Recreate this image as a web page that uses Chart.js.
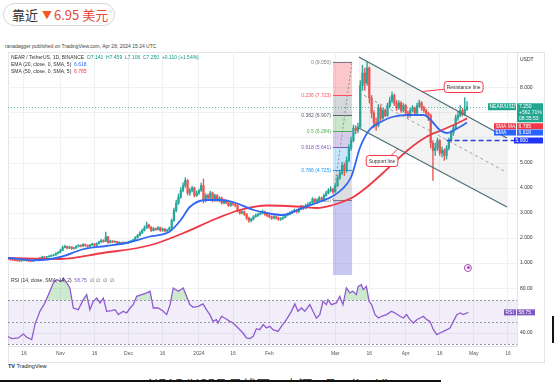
<!DOCTYPE html>
<html>
<head>
<meta charset="utf-8">
<script src="https://cdn.jsdelivr.net/npm/chart.js@4.4.1/dist/chart.umd.min.js"></script>
<style>
html, body { margin: 0; padding: 0; background: #fff; }
body { width: 554px; height: 382px; overflow: hidden; position: relative; font-family: "Liberation Sans", Arial, sans-serif; }
#badge { position: absolute; left: 3px; top: 3px; width: 110px; height: 21px; border: 1px solid #d6d6d6; border-radius: 12px; font: 13px "Noto Sans CJK SC", sans-serif; line-height: 21px; white-space: nowrap; }
#badge .k { position: absolute; left: 8px; color: #333; }
#badge .t { position: absolute; left: 38px; color: #f05a28; font-size: 10px; }
#badge .v { position: absolute; left: 50px; color: #e8473a; }
#pub { position: absolute; left: 5px; top: 43px; font-size: 10px; color: #444; transform: scale(0.5); transform-origin: 0 0; white-space: nowrap; }
#frame { position: absolute; left: 8px; top: 52px; width: 535px; height: 309px; border: 1px solid #e3e5ea; }
#main { position: absolute; left: 8px; top: 52px; }
#rsi { position: absolute; left: 8px; top: 275px; }
#logo { position: absolute; left: 8px; top: 363px; font-size: 10px; color: #222; transform: scale(0.55); transform-origin: 0 0; white-space: nowrap; }
#caption { position: absolute; left: 148px; top: 373.5px; font: 14px "Noto Sans CJK SC", sans-serif; color: #444; white-space: nowrap; }
#bar { position: absolute; left: 0; top: 380px; width: 441px; height: 2px; background: #111; }
#vbar { position: absolute; left: 552px; top: 316px; width: 2px; height: 27px; background: #111; }
</style>
</head>
<body>
<div id="badge"><span class="k">靠近</span><span class="t">▼</span><span class="v">6.95 美元</span></div>
<div id="pub">ranadagger published on TradingView.com, Apr 28, 2024 15:24 UTC</div>
<div id="frame"></div>
<canvas id="main" width="536" height="223"></canvas>
<canvas id="rsi" width="536" height="87"></canvas>
<div id="logo"><b>TV</b> TradingView</div>
<div id="caption">NEAR/USDT 日线图。来源：TradingView</div>
<div id="bar"></div>
<div id="vbar"></div>
<script>
// days are counted from Oct 16 2023 (day 0)
const tickDays = [0, 16, 31, 46, 61, 77, 92, 108, 137, 152, 168, 183, 198, 213];
const tickLabels = ['16', 'Nov', '16', 'Dec', '16', '2024', '16', 'Feb', 'Mar', '16', 'Apr', '16', 'May', '16'];
const priceTicks = [1, 2, 3, 4, 5, 6, 7, 8];
const rsiTicks = [40, 80];

const firstDay = -7; // Oct 9
const firstOpen = 1.18;
const closes = [
  1.16, 1.13, 1.12, 1.10, 1.09, 1.08, 1.10, 1.11, 1.09, 1.08,
  1.07, 1.10, 1.12, 1.15, 1.20, 1.24, 1.22, 1.25, 1.27, 1.30,
  1.32, 1.38, 1.42, 1.50, 1.62, 1.66, 1.60, 1.64, 1.58, 1.60,
  1.66, 1.70, 1.68, 1.74, 1.70, 1.66, 1.72, 1.76, 1.70, 1.78,
  1.84, 1.90, 1.86, 2.05, 1.82, 1.88, 1.84, 1.86, 1.80, 1.82,
  1.78, 1.82, 1.80, 1.84, 1.88, 1.92, 2.02, 2.10, 2.20, 2.30,
  2.40, 2.52, 2.44, 2.30, 2.38, 2.34, 2.42, 2.30, 2.36, 2.28,
  2.32, 2.40, 2.70, 3.10, 3.40, 3.64, 3.90, 4.10, 4.30, 3.80,
  3.90, 4.00, 3.70, 3.80, 3.90, 4.10, 3.50, 3.70, 3.60, 3.80,
  3.50, 3.70, 3.50, 3.60, 3.40, 3.50, 3.40, 3.30, 3.40, 3.35,
  3.30, 3.10, 3.00, 3.05, 2.95, 2.80, 2.70, 2.75, 2.85, 2.90,
  2.95, 3.00, 3.05, 2.95, 2.90, 2.85, 2.80, 2.85, 2.80, 2.75,
  2.78, 2.82, 2.90, 2.95, 3.00, 3.05, 3.10, 3.05, 3.15, 3.25,
  3.20, 3.30, 3.35, 3.40, 3.55, 3.45, 3.50, 3.60, 3.55, 3.70,
  3.80, 3.90, 3.95, 3.85, 4.10, 4.40, 4.60, 4.90, 4.70, 5.10,
  5.60, 5.90, 6.40, 6.30, 6.45, 8.10, 8.60, 8.20, 8.80, 7.60,
  7.00, 6.60, 6.50, 7.20, 6.80, 7.10, 6.90, 7.30, 7.50, 7.70,
  7.40, 7.20, 7.40, 7.10, 7.30, 7.00, 6.90, 7.10, 7.20, 7.00,
  7.30, 7.40, 7.20, 7.10, 7.00, 6.90, 5.80, 5.50, 5.60, 5.90,
  5.40, 5.50, 5.30, 5.60, 5.90, 6.20, 6.40, 6.80, 6.90, 7.10,
  6.95, 7.14, 7.25
];
const highs = [
  1.20, 1.17, 1.15, 1.13, 1.12, 1.11, 1.12, 1.13, 1.12, 1.11,
  1.10, 1.12, 1.14, 1.17, 1.23, 1.28, 1.26, 1.27, 1.30, 1.33,
  1.35, 1.41, 1.46, 1.55, 1.68, 1.72, 1.68, 1.67, 1.66, 1.63,
  1.70, 1.74, 1.73, 1.78, 1.76, 1.72, 1.75, 1.80, 1.78, 1.81,
  1.88, 1.95, 1.93, 2.24, 2.06, 1.92, 1.90, 1.89, 1.87, 1.85,
  1.84, 1.85, 1.84, 1.87, 1.91, 1.96, 2.06, 2.15, 2.26, 2.36,
  2.48, 2.64, 2.56, 2.46, 2.42, 2.40, 2.46, 2.44, 2.40, 2.38,
  2.36, 2.44, 2.76, 3.20, 3.52, 3.76, 4.02, 4.22, 4.42, 4.34,
  4.00, 4.08, 4.04, 3.88, 3.96, 4.20, 4.36, 3.78, 3.76, 3.88,
  3.84, 3.76, 3.74, 3.66, 3.64, 3.56, 3.54, 3.44, 3.46, 3.44,
  3.40, 3.34, 3.14, 3.10, 3.08, 2.98, 2.84, 2.80, 2.90, 2.96,
  3.00, 3.06, 3.12, 3.08, 2.98, 2.94, 2.88, 2.90, 2.88, 2.84,
  2.82, 2.86, 2.94, 3.00, 3.05, 3.10, 3.16, 3.14, 3.20, 3.32,
  3.30, 3.36, 3.42, 3.46, 3.62, 3.58, 3.56, 3.66, 3.64, 3.76,
  3.88, 3.98, 4.06, 4.00, 4.16, 4.50, 4.72, 5.04, 5.00, 5.24,
  5.74, 6.04, 6.52, 6.50, 6.60, 8.30, 8.90, 8.80, 9.05, 8.84,
  7.70, 7.10, 6.80, 7.34, 7.30, 7.20, 7.16, 7.40, 7.64, 7.84,
  7.76, 7.50, 7.50, 7.46, 7.38, 7.34, 7.08, 7.20, 7.30, 7.24,
  7.40, 7.52, 7.46, 7.28, 7.16, 7.04, 6.96, 5.90, 5.80, 6.00,
  5.94, 5.64, 5.56, 5.70, 6.00, 6.30, 6.50, 6.92, 7.06, 7.30,
  7.20, 7.62, 7.459
];
const lows = [
  1.14, 1.11, 1.10, 1.08, 1.07, 1.06, 1.07, 1.09, 1.07, 1.06,
  1.05, 1.06, 1.09, 1.11, 1.14, 1.19, 1.20, 1.21, 1.23, 1.25,
  1.28, 1.31, 1.36, 1.41, 1.49, 1.60, 1.56, 1.57, 1.54, 1.55,
  1.58, 1.64, 1.64, 1.66, 1.67, 1.62, 1.64, 1.70, 1.67, 1.69,
  1.76, 1.82, 1.83, 1.85, 1.78, 1.80, 1.81, 1.82, 1.77, 1.78,
  1.75, 1.76, 1.77, 1.78, 1.82, 1.86, 1.90, 2.00, 2.08, 2.18,
  2.28, 2.38, 2.38, 2.26, 2.28, 2.30, 2.32, 2.26, 2.27, 2.24,
  2.25, 2.30, 2.38, 2.66, 3.04, 3.34, 3.58, 3.84, 4.02, 3.72,
  3.70, 3.84, 3.64, 3.66, 3.74, 3.86, 3.40, 3.44, 3.52, 3.56,
  3.44, 3.46, 3.46, 3.44, 3.36, 3.36, 3.36, 3.26, 3.26, 3.30,
  3.24, 3.04, 2.94, 2.96, 2.90, 2.74, 2.62, 2.64, 2.72, 2.82,
  2.86, 2.92, 2.96, 2.90, 2.84, 2.80, 2.74, 2.76, 2.75, 2.70,
  2.70, 2.74, 2.80, 2.88, 2.92, 2.96, 3.02, 3.00, 3.02, 3.12,
  3.14, 3.16, 3.26, 3.30, 3.38, 3.40, 3.40, 3.46, 3.50, 3.52,
  3.66, 3.76, 3.84, 3.78, 3.82, 4.06, 4.34, 4.54, 4.50, 4.62,
  5.04, 5.50, 5.84, 6.16, 6.20, 6.40, 7.90, 7.90, 8.10, 7.40,
  6.80, 6.40, 6.30, 6.44, 6.70, 6.74, 6.84, 6.86, 7.20, 7.40,
  7.30, 7.10, 7.14, 7.02, 7.04, 6.90, 6.80, 6.84, 7.04, 6.92,
  6.96, 7.22, 7.10, 7.02, 6.90, 6.70, 5.60, 4.30, 5.30, 5.50,
  5.30, 5.24, 5.10, 5.16, 5.52, 5.84, 6.10, 6.36, 6.70, 6.84,
  6.88, 6.90, 7.106
];

const emaDays = [-7, 5, 16, 26, 36, 45, 55, 64, 69, 73, 80, 86, 92, 101, 108, 114, 121, 130, 136, 140, 144, 148, 152, 157, 162, 169, 176, 179, 183, 186, 191, 195];
const emaValues = [1.20, 1.11, 1.24, 1.55, 1.68, 1.80, 2.05, 2.25, 2.72, 3.24, 3.52, 3.52, 3.44, 3.12, 2.98, 2.92, 3.15, 3.44, 3.68, 3.95, 4.44, 5.64, 6.32, 6.64, 6.84, 6.92, 6.92, 6.72, 6.32, 6.20, 6.40, 6.618];
const smaDays = [-7, 16, 34, 56, 70, 85, 95, 107, 122, 129, 136, 140, 145, 151, 158, 169, 177, 184, 191, 195];
const smaValues = [1.20, 1.16, 1.39, 1.72, 2.19, 2.79, 3.12, 3.30, 3.25, 3.20, 3.32, 3.44, 3.64, 4.04, 4.60, 5.52, 6.04, 6.32, 6.60, 6.785];

const rsiDays = [
  -7.3, -5.4, -2.5, -0.3, 1.2, 3.4, 4.8, 7.0, 9.2, 11.4, 12.9, 14.4, 16.6, 17.3, 18.8, 20.2, 21.7, 23.9, 26.1, 27.6,
  29.0, 30.5, 32.0, 33.5, 34.9, 36.4, 38.6, 40.1, 41.5, 43.7, 45.2, 46.7, 48.1, 49.6, 51.8, 54.0, 55.5, 56.9, 59.1, 61.3,
  62.8, 64.3, 65.7, 67.9, 70.1, 73.0, 74.5, 76.7, 78.8, 80.3, 81.8, 83.2, 84.7, 85.4, 86.9, 88.3, 90.6, 92.0, 93.5, 95.0,
  96.4, 97.9, 99.4, 100.9, 102.3, 103.8, 105.3, 106.7, 108.2, 109.6, 111.8, 113.3, 115.5, 117.7, 119.2, 120.6, 122.1, 123.6, 125.8, 127.2,
  128.7, 130.2, 131.6, 133.1, 133.8, 135.3, 137.5, 139.0, 140.4, 141.9, 143.4, 144.8, 146.3, 147.1, 148.5, 149.3, 150.7, 151.9, 153.0, 154.5,
  156.0, 157.4, 159.6, 161.8, 163.3, 165.5, 167.0, 168.4, 169.9, 171.4, 172.9, 174.3, 175.8, 177.3, 178.7, 180.2, 181.7, 183.1, 184.6, 186.1,
  187.5, 189.0, 190.5, 192.0, 193.4, 194.9, 195.6
];
const rsiValues = [
  37.0, 34.9, 35.5, 39.1, 36.1, 34.0, 47.6, 59.7, 67.3, 77.9, 85.5, 88.5, 87.0, 90.0, 85.5, 80.9, 62.7, 61.2, 70.3, 74.8,
  61.2, 68.8, 71.8, 67.3, 71.8, 59.7, 60.3, 61.2, 56.7, 59.7, 58.2, 62.7, 65.8, 73.3, 74.8, 76.4, 77.9, 62.7, 62.7, 59.7,
  56.7, 65.8, 80.9, 77.9, 80.9, 65.8, 63.3, 64.2, 66.4, 61.2, 56.7, 50.6, 52.1, 49.1, 55.2, 53.6, 50.6, 49.1, 46.1, 43.0,
  40.0, 35.5, 34.9, 37.0, 43.9, 43.0, 47.6, 44.6, 46.1, 43.0, 41.5, 46.1, 52.1, 59.7, 66.4, 59.7, 62.7, 59.7, 65.8, 59.7,
  53.6, 56.7, 68.8, 65.8, 70.3, 65.8, 67.3, 73.3, 65.8, 80.9, 76.4, 77.9, 74.9, 82.4, 83.9, 79.4, 82.4, 68.8, 65.8, 56.7,
  53.6, 55.2, 56.7, 59.7, 58.2, 55.2, 53.6, 56.7, 52.1, 49.1, 52.1, 53.6, 55.2, 52.1, 50.6, 43.0, 38.5, 40.0, 41.5, 43.0,
  44.6, 50.6, 56.7, 58.2, 56.7, 58.2, 58.75
];

const fibLevels = [0, 0.236, 0.382, 0.5, 0.618, 0.786, 1];
const fibPrices = [9.050, 7.723, 6.907, 6.284, 5.641, 4.725, 3.520];
const fibColors = ['#787b86', '#f7525f', '#5d606b', '#4caf50', '#7e57c2', '#2196f3', '#787b86'];
const fibFills = ['', 'rgba(242,54,69,0.28)', 'rgba(120,123,134,0.3)', 'rgba(76,175,80,0.3)', 'rgba(126,87,194,0.3)', 'rgba(33,150,243,0.25)', 'rgba(120,123,134,0.25)'];
const fibDays = [136, 144.4];

const channelDays = [147.4, 212.6];
const channelUpper = [9.24, 6.0];
const channelLower = [6.4, 3.24];
const channelMid = [7.82, 4.62];
const supportDays = [186, 217];
const supportPrice = 5.9;

const lastClose = 7.25;
const emaLast = 6.618;
const smaLast = 6.785;
const rsiLast = 58.75;

const xMin = -7.04, xMax = 217;
const upColor = '#26a69a', downColor = '#ef5350';
const gridColor = '#eff1f5';
const tinyFont = '5px "Liberation Sans", Arial, sans-serif';

const days = closes.map((c, i) => firstDay + i);
const opens = closes.map((c, i) => i === 0 ? firstOpen : closes[i - 1]);
const candleColors = closes.map((c, i) => c >= opens[i] ? upColor : downColor);

function xAxis(showLabels) {
  return {
    type: 'linear', min: xMin, max: xMax, offset: false,
    afterBuildTicks: s => { s.ticks = tickDays.map(v => ({ value: v })); },
    ticks: {
      display: showLabels, autoSkip: false, maxRotation: 0, padding: 5,
      font: { size: 5, family: 'Liberation Sans' }, color: '#555',
      callback: (v, i) => tickLabels[i]
    },
    grid: { color: gridColor, drawTicks: false, offset: false },
    border: { display: showLabels, color: '#e0e3eb' },
    afterFit: s => { s.height = showLabels ? 16 : 0; s.paddingLeft = 0; s.paddingRight = 0; }
  };
}

function tag(ctx, x, y, w, h, bg, text, color, align) {
  ctx.fillStyle = bg;
  ctx.fillRect(x, y, w, h);
  ctx.fillStyle = color || '#fff';
  ctx.textAlign = align || 'left';
  ctx.textBaseline = 'middle';
  ctx.fillText(text, align === 'center' ? x + w / 2 : x + 1.5, y + h / 2 + 0.3);
}

function callout(ctx, cx, cy, text, tx, ty, fx, fy) {
  ctx.font = tinyFont;
  const w = ctx.measureText(text).width + 5, h = 11;
  ctx.strokeStyle = '#f23645';
  ctx.lineWidth = 1;
  ctx.beginPath();
  ctx.moveTo(fx, fy);
  ctx.lineTo(tx, ty);
  ctx.stroke();
  ctx.fillStyle = '#fff';
  ctx.beginPath();
  ctx.roundRect(cx - w / 2, cy - h / 2, w, h, 3);
  ctx.fill();
  ctx.stroke();
  ctx.fillStyle = '#333';
  ctx.textAlign = 'center';
  ctx.textBaseline = 'middle';
  ctx.fillText(text, cx, cy + 0.3);
}

const mainPlugin = {
  id: 'tvMain',
  beforeDatasetsDraw(chart) {
    const { ctx, chartArea: a, scales: { x, y } } = chart;
    ctx.save();
    ctx.beginPath();
    ctx.rect(a.left, a.top, a.right - a.left, a.bottom - a.top);
    ctx.clip();
    const x0 = x.getPixelForValue(fibDays[0]), x1 = x.getPixelForValue(fibDays[1]);
    const yLow = y.getPixelForValue(fibPrices[fibPrices.length - 1]);
    ctx.fillStyle = 'rgba(118,120,222,0.4)';
    ctx.fillRect(x0, yLow, x1 - x0, a.bottom - yLow);
    for (let i = 1; i < fibPrices.length; i++) {
      const ya = y.getPixelForValue(fibPrices[i - 1]), yb = y.getPixelForValue(fibPrices[i]);
      ctx.fillStyle = fibFills[i];
      ctx.fillRect(x0, ya, x1 - x0, yb - ya);
    }
    ctx.font = tinyFont;
    ctx.textAlign = 'right';
    ctx.textBaseline = 'middle';
    fibPrices.forEach((p, i) => {
      const yy = Math.round(y.getPixelForValue(p)) + 0.5;
      ctx.strokeStyle = fibColors[i];
      ctx.lineWidth = 1;
      ctx.beginPath();
      ctx.moveTo(x0, yy);
      ctx.lineTo(x1, yy);
      ctx.stroke();
      ctx.fillStyle = fibColors[i];
      ctx.fillText(fibLevels[i] + ' (' + p.toFixed(3) + ')', x0 - 2, yy);
    });
    ctx.strokeStyle = '#8a8d96';
    ctx.setLineDash([2, 2]);
    ctx.beginPath();
    ctx.moveTo(x0, yLow);
    ctx.lineTo(x1, y.getPixelForValue(fibPrices[0]));
    ctx.stroke();
    ctx.setLineDash([1, 2]);
    ctx.strokeStyle = 'rgba(38,166,154,0.8)';
    const yc = Math.round(y.getPixelForValue(lastClose)) + 0.5;
    ctx.beginPath();
    ctx.moveTo(a.left, yc);
    ctx.lineTo(a.right, yc);
    ctx.stroke();
    ctx.restore();
  },
  afterDraw(chart) {
    const { ctx, chartArea: a, scales: { x, y } } = chart;
    ctx.save();
    // annotations
    callout(ctx, x.getPixelForValue(193.5), y.getPixelForValue(8.04), 'Resistance line',
      x.getPixelForValue(175.2), y.getPixelForValue(7.86), x.getPixelForValue(185), y.getPixelForValue(7.95));
    callout(ctx, x.getPixelForValue(157.6), y.getPixelForValue(5.08), 'Support line',
      x.getPixelForValue(164.6), y.getPixelForValue(5.57), x.getPixelForValue(161), y.getPixelForValue(5.25));
    // event icon
    const ix = x.getPixelForValue(195.4), iy = y.getPixelForValue(0.8);
    ctx.strokeStyle = '#ab47bc';
    ctx.lineWidth = 1;
    ctx.beginPath();
    ctx.arc(ix, iy, 3.5, 0, Math.PI * 2);
    ctx.stroke();
    ctx.fillStyle = '#ab47bc';
    ctx.beginPath();
    ctx.arc(ix + 0.5, iy - 0.5, 1.5, 0, Math.PI * 2);
    ctx.fill();
    // legend
    ctx.font = tinyFont;
    ctx.textAlign = 'left';
    ctx.textBaseline = 'middle';
    const rows = [
      ['NEAR / TetherUS, 1D, BINANCE  ', '#333', 'O7.141  H7.459  L7.106  C7.250  +0.110 (+1.54%)', '#089981'],
      ['EMA (20, close, 0, SMA, 5)  ', '#333', emaLast.toFixed(3), '#2962ff'],
      ['SMA (50, close, 0, SMA, 5)  ', '#333', smaLast.toFixed(3), '#f23645']
    ];
    rows.forEach((r, i) => {
      const ty = 5.5 + i * 7.3;
      ctx.fillStyle = r[1];
      ctx.fillText(r[0], 3, ty);
      ctx.fillStyle = r[3];
      ctx.fillText(r[2], 3 + ctx.measureText(r[0]).width, ty);
    });
    ctx.fillStyle = '#333';
    ctx.fillText('USDT', a.right + 3, 8);
    // price scale tags
    const r = a.right;
    const t0 = y.getPixelForValue(lastClose) - 3.5;
    tag(ctx, r - 29, t0, 28, 7, '#22a68f', 'NEAR/USDT');
    ctx.fillStyle = '#22a68f';
    ctx.fillRect(r, t0, 26, 19);
    ctx.fillStyle = '#fff';
    ctx.textAlign = 'left';
    ctx.fillText(lastClose.toFixed(3), r + 2, t0 + 3.5);
    ctx.fillText('+562.71%', r + 2, t0 + 9.5);
    ctx.fillText('08:35:53', r + 2, t0 + 15.5);
    const t1 = t0 + 20;
    tag(ctx, r - 23, t1, 22, 6, '#f23645', 'SMA MA');
    tag(ctx, r, t1, 26, 6, '#f23645', smaLast.toFixed(3));
    const t2 = t1 + 6.3;
    tag(ctx, r - 23, t2, 22, 6, '#2962ff', 'EMA');
    tag(ctx, r, t2, 26, 6, '#2962ff', emaLast.toFixed(3));
    const t3 = y.getPixelForValue(supportPrice) - 3;
    tag(ctx, r - 3, t3, 29, 6, '#1f35f2', supportPrice.toFixed(3));
    ctx.restore();
  }
};

const rsiPlugin = {
  id: 'tvRsi',
  beforeDatasetsDraw(chart) {
    const { ctx, chartArea: a, scales: { y } } = chart;
    ctx.save();
    const y70 = y.getPixelForValue(70), y30 = y.getPixelForValue(30), y50 = y.getPixelForValue(50);
    ctx.fillStyle = 'rgba(126,87,194,0.1)';
    ctx.fillRect(a.left, y70, a.right - a.left, Math.min(y30, a.bottom) - y70);
    ctx.strokeStyle = '#9598a1';
    ctx.lineWidth = 1;
    ctx.setLineDash([2, 2]);
    [y70, y50, y30].forEach(v => {
      const yy = Math.round(v) + 0.5;
      ctx.beginPath();
      ctx.moveTo(a.left, yy);
      ctx.lineTo(a.right, yy);
      ctx.stroke();
    });
    ctx.restore();
  },
  afterDraw(chart) {
    const { ctx, chartArea: a, scales: { y } } = chart;
    ctx.save();
    ctx.font = tinyFont;
    ctx.textAlign = 'left';
    ctx.textBaseline = 'middle';
    const head = 'RSI (14, close, SMA, 14, 2)  ';
    ctx.fillStyle = '#333';
    ctx.fillText(head, 3, 6);
    let w = ctx.measureText(head).width;
    ctx.fillStyle = '#7e57c2';
    ctx.fillText(rsiLast.toFixed(2), 3 + w, 6);
    w += ctx.measureText(rsiLast.toFixed(2) + '  ').width;
    ctx.fillStyle = '#555';
    ctx.fillText('∅  ∅  ∅  ∅', 3 + w, 6);
    const ty = y.getPixelForValue(rsiLast) - 3;
    tag(ctx, a.right - 13, ty, 12, 6, '#7e57c2', 'RSI');
    tag(ctx, a.right, ty, 18, 6, '#7e57c2', rsiLast.toFixed(2));
    ctx.restore();
  }
};

new Chart(document.getElementById('main'), {
  type: 'bar',
  data: {
    datasets: [
      {
        type: 'line', data: channelDays.map((d, i) => ({ x: d, y: channelUpper[i] })),
        borderColor: '#4d7275', borderWidth: 1.4, pointRadius: 0, fill: '+1',
        backgroundColor: 'rgba(120,123,134,0.09)', order: 0
      },
      {
        type: 'line', data: channelDays.map((d, i) => ({ x: d, y: channelLower[i] })),
        borderColor: '#4d7275', borderWidth: 1.4, pointRadius: 0, fill: false, order: 0
      },
      {
        type: 'line', data: channelDays.map((d, i) => ({ x: d, y: channelMid[i] })),
        borderColor: '#8a8d96', borderWidth: 0.8, borderDash: [3, 3], pointRadius: 0, fill: false, order: 0
      },
      {
        type: 'line', data: supportDays.map(d => ({ x: d, y: supportPrice })),
        borderColor: '#1f35f2', borderWidth: 1.5, borderDash: [5, 3], pointRadius: 0, fill: false, order: 0
      },
      {
        type: 'line', data: emaDays.map((d, i) => ({ x: d, y: emaValues[i] })),
        borderColor: '#2f66f5', borderWidth: 1.8, pointRadius: 0, tension: 0.4, cubicInterpolationMode: 'monotone', fill: false, order: 1
      },
      {
        type: 'line', data: smaDays.map((d, i) => ({ x: d, y: smaValues[i] })),
        borderColor: '#f23645', borderWidth: 1.8, pointRadius: 0, tension: 0.4, cubicInterpolationMode: 'monotone', fill: false, order: 2
      },
      {
        data: days.map((d, i) => ({ x: d, y: [opens[i], closes[i]] })),
        backgroundColor: candleColors, barThickness: 1.6, minBarLength: 0.6, grouped: false, order: 3
      },
      {
        data: days.map((d, i) => ({ x: d, y: [lows[i], highs[i]] })),
        backgroundColor: candleColors, barThickness: 0.7, grouped: false, order: 4
      }
    ]
  },
  options: {
    responsive: false, animation: false, devicePixelRatio: 1,
    layout: { autoPadding: false, padding: 0 },
    plugins: { legend: { display: false }, tooltip: { enabled: false } },
    scales: {
      x: xAxis(false),
      y: {
        position: 'right', min: 0.52, max: 9.44,
        afterBuildTicks: s => { s.ticks = priceTicks.map(v => ({ value: v })); },
        ticks: {
          font: { size: 5, family: 'Liberation Sans' }, color: '#333', padding: 3,
          callback: v => (v === 6 || v === 7) ? '' : v.toFixed(3)
        },
        grid: { color: gridColor, drawTicks: false },
        border: { color: '#e0e3eb' },
        afterFit: s => { s.width = 27; s.paddingTop = 0; s.paddingBottom = 0; }
      }
    }
  },
  plugins: [mainPlugin]
});

new Chart(document.getElementById('rsi'), {
  type: 'line',
  data: {
    datasets: [{
      data: rsiDays.map((d, i) => ({ x: d, y: rsiValues[i] })),
      borderColor: '#8e5bd0', borderWidth: 1.3, pointRadius: 0, tension: 0,
      fill: { target: { value: 70 }, above: 'rgba(76,175,80,0.28)', below: 'rgba(0,0,0,0)' }
    }]
  },
  options: {
    responsive: false, animation: false, devicePixelRatio: 1,
    layout: { autoPadding: false, padding: 0 },
    plugins: { legend: { display: false }, tooltip: { enabled: false } },
    scales: {
      x: xAxis(true),
      y: {
        position: 'right', min: 28.2, max: 92.7,
        afterBuildTicks: s => { s.ticks = rsiTicks.map(v => ({ value: v })); },
        ticks: { font: { size: 5, family: 'Liberation Sans' }, color: '#333', padding: 3, callback: v => v.toFixed(2) },
        grid: { color: gridColor, drawTicks: false },
        border: { color: '#e0e3eb' },
        afterFit: s => { s.width = 27; s.paddingTop = 0; s.paddingBottom = 0; }
      }
    }
  },
  plugins: [rsiPlugin]
});
</script>
</body>
</html>
